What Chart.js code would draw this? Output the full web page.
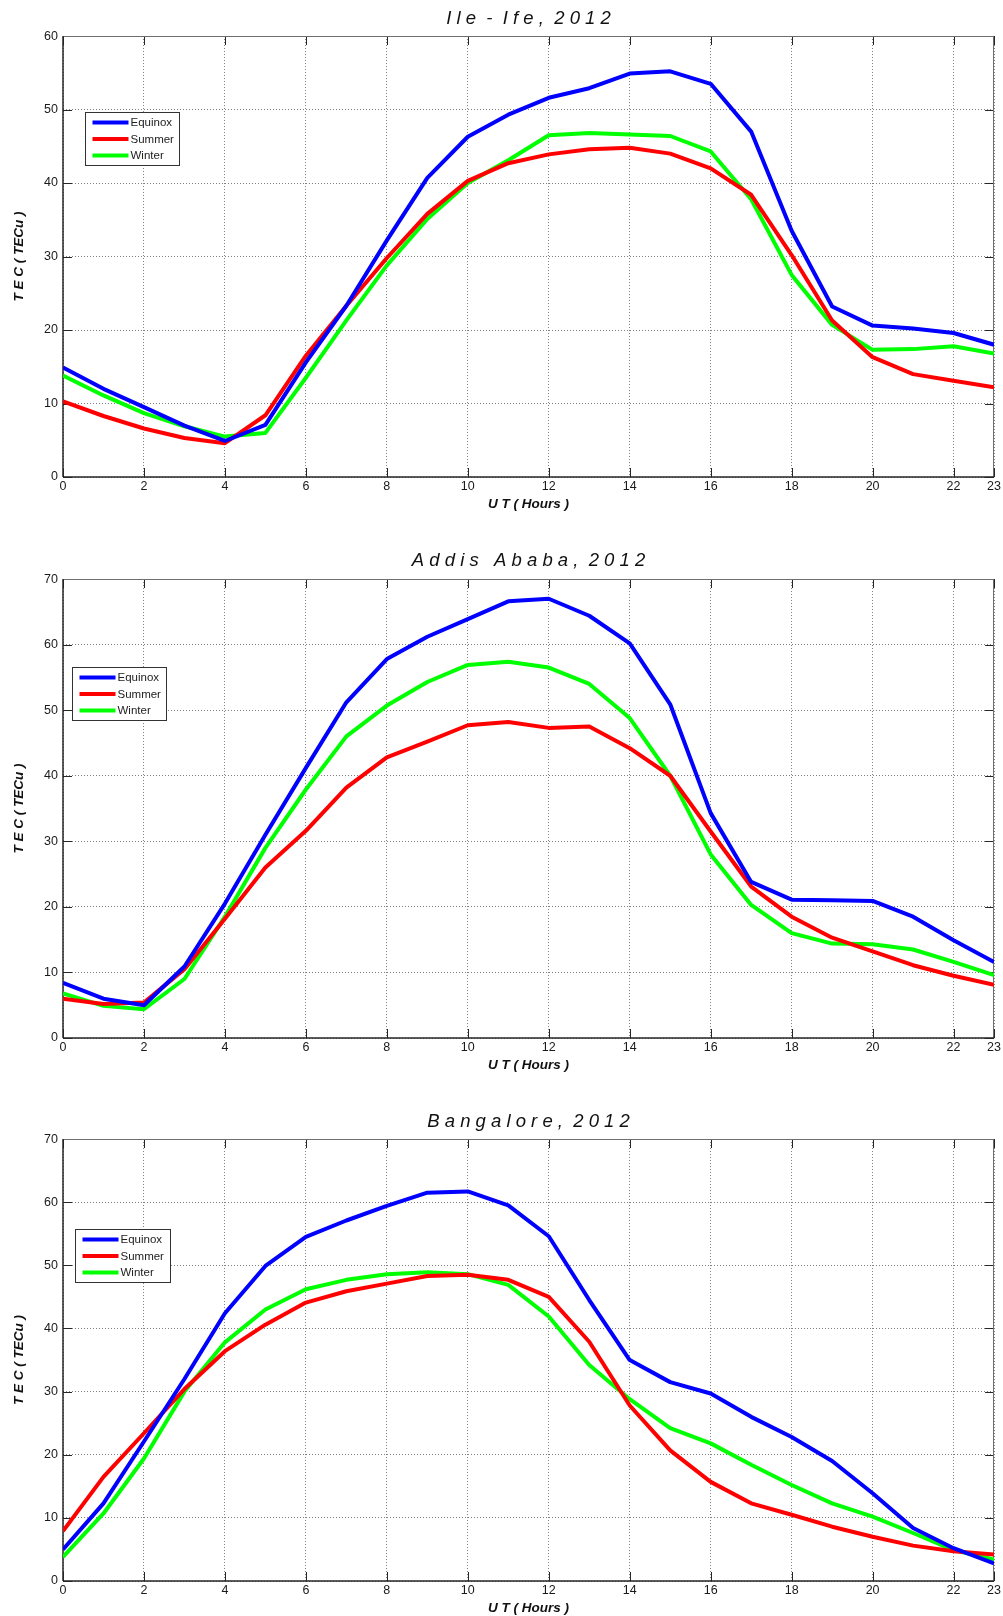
<!DOCTYPE html>
<html><head><meta charset="utf-8">
<script src="https://cdn.jsdelivr.net/npm/chart.js@4/dist/chart.umd.min.js"></script>
<style>
html,body{margin:0;padding:0;background:#fff;}
.wrap{position:absolute;left:0;width:1003px;}
canvas{display:block;}
</style></head><body>
<div class="wrap" style="top:0;height:528px"><canvas id="c1" width="1003" height="528"></canvas></div>
<div class="wrap" style="top:528px;height:562px"><canvas id="c2" width="1003" height="562"></canvas></div>
<div class="wrap" style="top:1090px;height:526px"><canvas id="c3" width="1003" height="526"></canvas></div>
<script>
// ---- data ----
const hours = [0,1,2,3,4,5,6,7,8,9,10,11,12,13,14,15,16,17,18,19,20,21,22,23];
const xTicks = [0,2,4,6,8,10,12,14,16,18,20,22,23];
const seriesNames = ['Equinox','Summer','Winter'];
const seriesColors = ['#0000ff','#ff0000','#00ff00'];
const xTitle = 'U T ( Hours )';
const yTitle = 'T E C ( TECu )';

const ileIfeTitle = 'I l e  -  I f e ,  2 0 1 2';
const ileIfeYMax = 60;
const ileIfeEquinox = [14.9,12.0,9.5,7.0,4.9,7.1,15.6,23.3,32.2,40.7,46.3,49.3,51.6,52.9,54.9,55.2,53.5,47.0,33.5,23.2,20.6,20.2,19.6,18.0];
const ileIfeSummer  = [10.3,8.3,6.6,5.3,4.6,8.4,16.5,23.3,29.8,35.8,40.3,42.7,43.9,44.6,44.8,44.0,42.0,38.4,30.2,21.3,16.3,14.0,13.1,12.2];
const ileIfeWinter  = [13.8,11.1,8.7,6.9,5.5,6.0,13.5,21.3,28.8,35.1,40.0,43.1,46.5,46.8,46.6,46.4,44.3,37.8,27.5,20.7,17.3,17.4,17.8,16.8];

const addisTitle = 'A d d i s   A b a b a ,  2 0 1 2';
const addisYMax = 70;
const addisEquinox = [8.4,6.0,5.0,10.9,20.5,31.0,41.2,51.2,57.8,61.2,63.9,66.6,67.0,64.4,60.2,50.9,34.3,23.8,21.1,21.0,20.9,18.5,14.9,11.6];
const addisSummer  = [6.0,5.2,5.4,10.5,18.2,26.0,31.6,38.2,42.8,45.2,47.7,48.2,47.3,47.5,44.2,40.0,31.5,23.1,18.5,15.3,13.2,11.1,9.5,8.1];
const addisWinter  = [6.8,4.9,4.4,9.0,18.5,29.0,37.9,46.0,50.7,54.3,56.9,57.4,56.5,54.0,48.8,40.0,28.0,20.3,16.0,14.4,14.3,13.5,11.6,9.6];

const bangaloreTitle = 'B a n g a l o r e ,  2 0 1 2';
const bangaloreYMax = 70;
const bangaloreEquinox = [5.0,12.3,22.1,32.0,42.4,49.9,54.5,57.1,59.4,61.5,61.7,59.5,54.6,44.5,35.0,31.5,29.7,26.0,22.8,19.0,13.9,8.4,5.2,2.8];
const bangaloreSummer  = [7.9,16.5,23.4,30.4,36.4,40.6,44.1,45.9,47.1,48.3,48.5,47.7,45.0,37.9,27.8,20.7,15.7,12.3,10.5,8.6,7.0,5.6,4.7,4.2];
const bangaloreWinter  = [3.8,10.7,19.4,30.0,37.8,43.0,46.2,47.7,48.6,48.9,48.6,46.9,41.9,34.2,28.8,24.2,21.8,18.4,15.2,12.3,10.2,7.6,4.9,3.4];

// ---- styling ----
const SANS = '"Liberation Sans", Arial, sans-serif';
const AXIS_COLOR = '#262626';

const matlabFrame = {
  id: 'matlabFrame',
  beforeDatasetsDraw(chart, args, opts) {
    const {ctx, chartArea: a, scales: {x, y}} = chart;
    const tl = opts.tickLen || 9;
    ctx.save();
    ctx.strokeStyle = AXIS_COLOR;
    ctx.lineWidth = 1;
    ctx.beginPath();
    x.ticks.forEach(t => {
      const px = Math.round(x.getPixelForValue(t.value)) + 0.5;
      ctx.moveTo(px, a.bottom); ctx.lineTo(px, a.bottom - tl);
      ctx.moveTo(px, a.top); ctx.lineTo(px, a.top + tl);
    });
    y.ticks.forEach(t => {
      const py = Math.round(y.getPixelForValue(t.value)) + 0.5;
      ctx.moveTo(a.left, py); ctx.lineTo(a.left + tl, py);
      ctx.moveTo(a.right, py); ctx.lineTo(a.right - tl, py);
    });
    ctx.stroke();
    ctx.strokeStyle = '#6e6e6e';
    ctx.beginPath();
    ctx.moveTo(a.left, Math.round(a.top) + 0.5); ctx.lineTo(a.right, Math.round(a.top) + 0.5);
    ctx.moveTo(Math.round(a.right) - 0.5, a.top); ctx.lineTo(Math.round(a.right) - 0.5, a.bottom);
    ctx.stroke();
    ctx.strokeStyle = AXIS_COLOR;
    ctx.lineWidth = 1.5;
    ctx.beginPath();
    ctx.moveTo(a.left, Math.round(a.bottom)); ctx.lineTo(a.right, Math.round(a.bottom));
    ctx.moveTo(Math.round(a.left), a.top); ctx.lineTo(Math.round(a.left), a.bottom);
    ctx.stroke();
    ctx.restore();
  }
};

const insideLegend = {
  id: 'insideLegend',
  afterDatasetsDraw(chart, args, opts) {
    const {ctx, chartArea: a} = chart;
    const bx = Math.round(a.left + opts.dx) + 0.5, by = Math.round(a.top + opts.dy) + 0.5;
    const w = opts.w, h = opts.h;
    ctx.save();
    ctx.fillStyle = '#ffffff';
    ctx.fillRect(bx, by, w, h);
    ctx.strokeStyle = '#333333';
    ctx.lineWidth = 1;
    ctx.strokeRect(bx, by, w, h);
    ctx.font = '11.5px ' + SANS;
    ctx.textBaseline = 'middle';
    ctx.textAlign = 'left';
    chart.data.datasets.forEach((ds, i) => {
      const ry = by + 10 + i * 16.5;
      ctx.strokeStyle = ds.borderColor;
      ctx.lineWidth = 4;
      ctx.beginPath();
      ctx.moveTo(bx + 7, ry); ctx.lineTo(bx + 43, ry);
      ctx.stroke();
      ctx.fillStyle = '#222222';
      ctx.fillText(ds.label, bx + 45, ry + 0.5);
    });
    ctx.restore();
  }
};

function makeChart(id, title, yMax, values, lay) {
  const datasets = values.map((vals, i) => ({
    label: seriesNames[i],
    data: hours.map((h, k) => ({x: h, y: vals[k]})),
    borderColor: seriesColors[i],
    backgroundColor: seriesColors[i],
    borderWidth: 4,
    pointRadius: 0,
    tension: 0,
    fill: false,
    borderJoinStyle: 'round'
  }));
  return new Chart(document.getElementById(id), {
    type: 'line',
    data: {datasets},
    plugins: [matlabFrame, insideLegend],
    options: {
      responsive: false,
      animation: false,
      devicePixelRatio: 1,
      layout: {padding: {left: 0, right: 7, top: 0, bottom: 0}},
      plugins: {
        legend: {display: false},
        tooltip: {enabled: false},
        title: {
          display: true, text: title, fullSize: false, color: '#111',
          font: {family: SANS, size: 18.5, style: 'italic', weight: 'normal', lineHeight: 1.1},
          padding: {top: lay.tTop, bottom: lay.tBottom}
        },
        matlabFrame: {tickLen: 9},
        insideLegend: lay.legend
      },
      scales: {
        x: {
          type: 'linear', min: 0, max: 23,
          afterBuildTicks: s => { s.ticks = xTicks.map(v => ({value: v})); },
          afterFit: s => { s.height = lay.xH; },
          grid: {color: 'rgba(0,0,0,0.5)', lineWidth: 1, drawTicks: false},
          border: {display: false, dash: [1, 2]},
          ticks: {autoSkip: false, maxRotation: 0, padding: 2, color: '#1a1a1a',
                  font: {family: SANS, size: 12.5}},
          title: {display: true, text: xTitle, color: '#111',
                  font: {family: SANS, size: 13.5, style: 'italic', weight: 'bold', lineHeight: 1.2},
                  padding: {top: 0, bottom: lay.xTitlePad}}
        },
        y: {
          min: 0, max: yMax,
          afterFit: s => { s.width = 63; },
          grid: {color: 'rgba(0,0,0,0.5)', lineWidth: 1, drawTicks: false},
          border: {display: false, dash: [1, 2]},
          ticks: {stepSize: 10, padding: 5, color: '#1a1a1a',
                  font: {family: SANS, size: 12.5}},
          title: {display: true, text: yTitle, color: '#111',
                  font: {family: SANS, size: 13.5, style: 'italic', weight: 'bold', lineHeight: 1.2},
                  padding: {top: 11, bottom: 0}}
        }
      }
    }
  });
}

makeChart('c1', ileIfeTitle, ileIfeYMax, [ileIfeEquinox, ileIfeSummer, ileIfeWinter],
  {tTop: 8.3, tBottom: 7.4, xH: 51, xTitlePad: 16, legend: {dx: 22, dy: 76, w: 94, h: 53}});
makeChart('c2', addisTitle, addisYMax, [addisEquinox, addisSummer, addisWinter],
  {tTop: 22.8, tBottom: 7.9, xH: 52, xTitlePad: 17, legend: {dx: 9, dy: 88, w: 94, h: 53}});
makeChart('c3', bangaloreTitle, bangaloreYMax, [bangaloreEquinox, bangaloreSummer, bangaloreWinter],
  {tTop: 21.3, tBottom: 7.4, xH: 35, xTitlePad: 0, legend: {dx: 12, dy: 90, w: 95, h: 53}});
</script>
</body></html>
